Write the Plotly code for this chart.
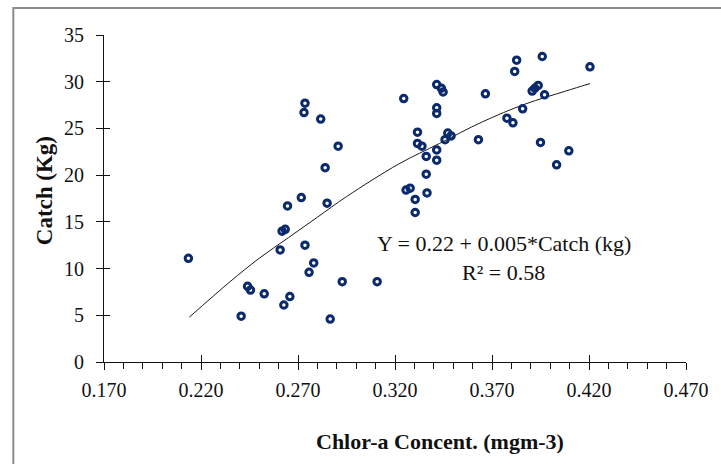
import plotly.graph_objects as go

# Scatter data: Chlor-a concentration (mgm-3) vs Catch (Kg)
chlor = [0.2135, 0.2407, 0.2440, 0.2455, 0.2526, 0.2608, 0.2618, 0.2634, 0.2627, 0.2658,
         0.2646, 0.2717, 0.2731, 0.2736, 0.2736, 0.2757, 0.2781, 0.2817, 0.2840, 0.2850,
         0.2866, 0.2907, 0.2928, 0.3108, 0.3245, 0.3257, 0.3278, 0.3304, 0.3304, 0.3316,
         0.3316, 0.3339, 0.3361, 0.3361, 0.3365, 0.3415, 0.3439, 0.3448, 0.3415, 0.3415,
         0.3415, 0.3415, 0.3458, 0.3472, 0.3489, 0.3630, 0.3666, 0.3777, 0.3808, 0.3817,
         0.3827, 0.3858, 0.3907, 0.3921, 0.3938, 0.3959, 0.3971, 0.3950, 0.4033, 0.4096,
         0.4205]
catch = [11.1, 4.9, 8.1, 7.7, 7.3, 12.0, 14.0, 14.2, 6.1, 7.0,
         16.7, 17.6, 26.7, 27.7, 12.5, 9.6, 10.6, 26.0, 20.8, 17.0,
         4.6, 23.1, 8.6, 8.6, 28.2, 18.4, 18.6, 17.4, 16.0, 24.6,
         23.4, 23.1, 22.0, 20.1, 18.1, 29.7, 29.3, 28.9, 27.2, 26.6,
         22.7, 21.6, 23.8, 24.5, 24.2, 23.8, 28.7, 26.1, 25.6, 31.1,
         32.3, 27.1, 29.0, 29.3, 29.6, 32.7, 28.6, 23.5, 21.1, 22.6,
         31.6]

# Trend curve
curve_x = [0.2140, 0.2350, 0.2500, 0.2650, 0.2800, 0.2950, 0.3220, 0.3430, 0.3650, 0.3870, 0.4080, 0.4205]
curve_y = [4.8, 8.6, 11.1, 13.3, 15.5, 17.7, 21.2, 23.4, 25.7, 27.6, 29.0, 29.8]

x_ticks = [0.170, 0.220, 0.270, 0.320, 0.370, 0.420, 0.470]
x_labels = ["0.170", "0.220", "0.270", "0.320", "0.370", "0.420", "0.470"]
y_ticks = [0, 5, 10, 15, 20, 25, 30, 35]

equation = "Y = 0.22 + 0.005*Catch (kg)"
r2_text = "R² = 0.58"
x_title = "Chlor-a Concent. (mgm-3)"
y_title = "Catch (Kg)"

SERIF = "Liberation Serif, Times New Roman, serif"
NAVY = "#0b2a6b"

fig = go.Figure()
fig.add_trace(go.Scatter(
    x=curve_x, y=curve_y, mode="lines", line=dict(color="#1a1a1a", width=1, shape="spline"),
    hoverinfo="skip", showlegend=False))
fig.add_trace(go.Scatter(
    x=chlor, y=catch, mode="markers",
    marker=dict(symbol="circle-open", size=6.5, color=NAVY, line=dict(width=3, color=NAVY)),
    showlegend=False))
# invisible trace to anchor overlay axes (inside tick marks)
fig.add_trace(go.Scatter(x=[x_ticks[0]], y=[y_ticks[0]], xaxis="x2", yaxis="y2",
                         mode="markers", marker=dict(opacity=0), hoverinfo="skip", showlegend=False))

common_font = dict(family=SERIF, size=20, color="#111")

fig.update_layout(
    width=721, height=464,
    margin=dict(l=104, r=33, t=35, b=102),
    paper_bgcolor="white", plot_bgcolor="white",
    xaxis=dict(range=[0.17, 0.47], tickvals=x_ticks, ticktext=x_labels,
               showgrid=False, zeroline=False, showline=True, linecolor="#111", linewidth=1.2,
               ticks="outside", ticklen=7, tickwidth=1.2, tickcolor="#111",
               minor=dict(dtick=0.01, tick0=0.17, ticks="outside", ticklen=6, tickwidth=1, tickcolor="#111", showgrid=False),
               tickfont=common_font, ticklabelstandoff=3),
    yaxis=dict(range=[0, 35], tickvals=y_ticks,
               showgrid=False, zeroline=False, showline=True, linecolor="#111", linewidth=1.2,
               ticks="outside", ticklen=7, tickwidth=1.2, tickcolor="#111",
               tickfont=common_font, ticklabelstandoff=8),
    xaxis2=dict(range=[0.17, 0.47], tickvals=x_ticks, overlaying="x", anchor="y", side="bottom",
                showticklabels=False, showgrid=False, zeroline=False, showline=False,
                ticks="inside", ticklen=7, tickwidth=1.2, tickcolor="#111"),
    yaxis2=dict(range=[0, 35], tickvals=y_ticks, overlaying="y", anchor="x", side="left",
                showticklabels=False, showgrid=False, zeroline=False, showline=False,
                ticks="inside", ticklen=6, tickwidth=1.2, tickcolor="#111"),
    annotations=[
        dict(text=f"<b>{x_title}</b>", xref="paper", yref="paper", x=0.577, y=-0.2416,
             xanchor="center", yanchor="middle", showarrow=False,
             font=dict(family=SERIF, size=22, color="#111")),
        dict(text=f"<b>{y_title}</b>", xref="paper", yref="paper", x=-0.101, y=0.523,
             xanchor="center", yanchor="middle", showarrow=False, textangle=-90,
             font=dict(family=SERIF, size=23, color="#111")),
        dict(text=equation, xref="paper", yref="paper", x=0.688, y=0.362,
             xanchor="center", yanchor="middle", showarrow=False,
             font=dict(family=SERIF, size=22, color="#111")),
        dict(text=r2_text, xref="paper", yref="paper", x=0.687, y=0.275,
             xanchor="center", yanchor="middle", showarrow=False,
             font=dict(family=SERIF, size=22, color="#111")),
    ],
    shapes=[
        dict(type="rect", xref="paper", yref="paper", x0=-0.1558, x1=1.065, y0=-0.33, y1=1.0826,
             line=dict(color="#8c8c8c", width=2), fillcolor="rgba(0,0,0,0)", layer="above"),
    ],
)

fig.write_html("out.html", config={"displayModeBar": False},
               post_script="document.body.style.margin='0';document.body.style.overflow='hidden';")
